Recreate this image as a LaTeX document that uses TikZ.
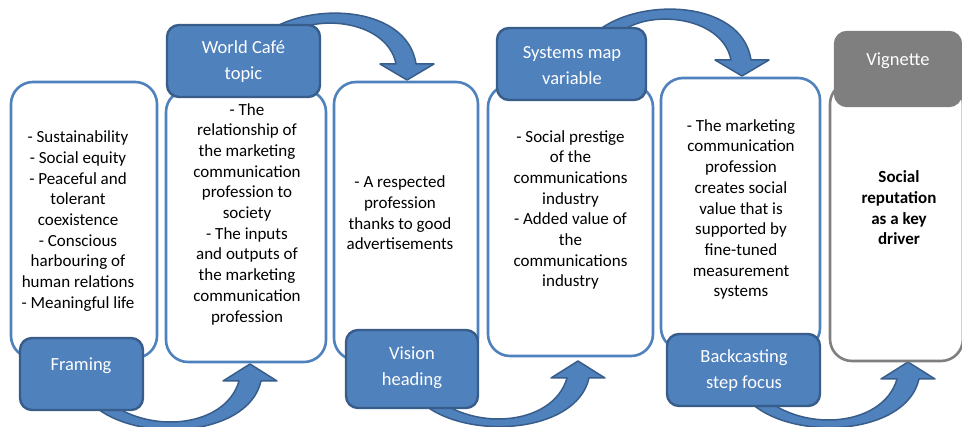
\documentclass[tikz,border=0pt]{standalone}
\usepackage{fontspec}
\setmainfont{Carlito}
\definecolor{accent}{HTML}{4F81BD}
\definecolor{accentdark}{HTML}{385D8A}
\definecolor{greybox}{HTML}{7F7F7F}
\tikzset{
  contentbox/.style={draw=accent, line width=2.6pt, fill=white, rounded corners=22pt, inner sep=0pt},
  greycontent/.style={contentbox, draw=greybox},
  labelbox/.style={draw=accentdark, line width=2.4pt, fill=accent, rounded corners=12pt, inner sep=0pt},
  greylabel/.style={labelbox, draw=greybox, fill=greybox},
  bodytext/.style={align=center, inner sep=0pt, font=\fontsize{17}{20.7}\selectfont},
  labeltext/.style={align=center, inner sep=0pt, text=white, font=\fontsize{18.5}{26}\selectfont},
  arrowbody/.style={fill=accent, draw=accentdark, line width=1.5pt, line join=round},
  risearrow/.pic={
    \path[arrowbody] (-160,38) .. controls (-120,80) and (-2,75) .. (11,17)
      -- (27,17) -- (0,0) -- (-27,17) -- (-11,17)
      .. controls (-25,66) and (-110,72) .. (-150,30) -- cycle;
  },
  fallarrow/.pic={
    \path[arrowbody] (-150,-40) .. controls (-110,-80) and (0,-78) .. (9,-16)
      -- (27,-16) -- (0,0) -- (-27,-16) -- (-11,-16)
      .. controls (-20,-62) and (-100,-68) .. (-125,-40) -- cycle;
  }
}
\begin{document}
\begin{tikzpicture}[x=1pt,y=-1pt]
\useasboundingbox (0,0) rectangle (962,427);
\clip (0,0) rectangle (962,427);

% arrow tips (free ends)
\coordinate (t1) at (250,364);
\coordinate (t2) at (407,80);
\coordinate (t3) at (578,361);
\coordinate (t4) at (742,76);
\coordinate (t5) at (908,362);

% curved block arrows
\pic at (t1) {risearrow};
\pic at (t2) {fallarrow};
\pic at (t3) {risearrow};
\pic at (t4) {fallarrow};
\pic at (t5) {risearrow};

% content boxes
\node[contentbox, minimum width=146pt, minimum height=276pt] (W1) at (84,220) {};
\node[contentbox, minimum width=160pt, minimum height=272pt] (W2) at (246,226) {};
\node[contentbox, minimum width=144pt, minimum height=278pt] (W3) at (406,221) {};
\node[contentbox, minimum width=165pt, minimum height=271pt] (W4) at (570.5,220.5) {};
\node[contentbox, minimum width=159pt, minimum height=272pt] (W5) at (740.5,214) {};
\node[greycontent, minimum width=133pt, minimum height=279pt] (W6) at (896.5,221.5) {};

% label boxes
\node[labelbox, minimum width=123pt, minimum height=72pt] (L1) at (81.5,374) {};
\node[labelbox, minimum width=153pt, minimum height=72pt] (L2) at (243.5,61) {};
\node[labelbox, minimum width=132pt, minimum height=78pt] (L3) at (412,369) {};
\node[labelbox, minimum width=149pt, minimum height=72pt] (L4) at (571.5,64) {};
\node[labelbox, minimum width=153pt, minimum height=72pt] (L5) at (743.5,370) {};
\node[greylabel, minimum width=126pt, minimum height=74pt] (L6) at (898,69) {};

% label texts
\node[labeltext] (LT1) at (81,366) {Framing};
\node[labeltext] (LT2) at (243.5,61.5) {World Café\\topic};
\node[labeltext] (LT3) at (412,367.5) {Vision\\heading};
\node[labeltext] (LT4) at (572,66) {Systems map\\variable};
\node[labeltext] (LT5) at (744,371) {Backcasting\\step focus};
\node[labeltext] (LT6) at (898,61) {Vignette};

% body texts
\node[bodytext] (B1) at (78,221) {- Sustainability\\- Social equity\\- Peaceful and\\tolerant\\coexistence\\- Conscious\\harbouring of\\human relations\\- Meaningful life};
\node[bodytext] (B2) at (247,214) {- The\\relationship of\\the marketing\\communication\\profession to\\society\\- The inputs\\and outputs of\\the marketing\\communication\\profession};
\node[bodytext] (B3) at (400,213) {- A respected\\profession\\thanks to good\\advertisements};
\node[bodytext] (B4) at (570.5,210) {- Social prestige\\of the\\communications\\industry\\- Added value of\\the\\communications\\industry};
\node[bodytext] (B5) at (741,209.5) {- The marketing\\communication\\profession\\creates social\\value that is\\supported by\\fine-tuned\\measurement\\systems};
\node[bodytext, font=\fontsize{17}{20.7}\selectfont\bfseries] (B6) at (899,208) {Social\\reputation\\as a key\\driver};
\end{tikzpicture}
\end{document}
